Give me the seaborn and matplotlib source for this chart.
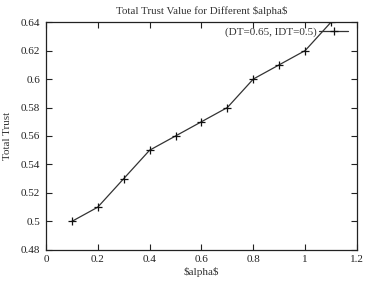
import pandas as pd
import matplotlib
matplotlib.use('Agg')
import matplotlib.pyplot as plt
import seaborn as sns

alpha_values = [0.1, 0.2, 0.3, 0.4, 0.5, 0.6, 0.7, 0.8, 0.9, 1.0, 1.1]
trust_values = [0.50, 0.51, 0.53, 0.55, 0.56, 0.57, 0.58, 0.60, 0.61, 0.62, 0.64]
x_ticks = [0, 0.2, 0.4, 0.6, 0.8, 1, 1.2]
x_tick_labels = ['0', '0.2', '0.4', '0.6', '0.8', '1', '1.2']
y_ticks = [0.48, 0.5, 0.52, 0.54, 0.56, 0.58, 0.6, 0.62, 0.64]
y_tick_labels = ['0.48', '0.5', '0.52', '0.54', '0.56', '0.58', '0.6', '0.62', '0.64']

df = pd.DataFrame({'alpha': alpha_values, 'trust': trust_values})

sns.set_style('ticks')
plt.rcParams['font.family'] = ['Liberation Serif', 'DejaVu Serif']

fig = plt.figure(figsize=(3.7, 2.83), dpi=100)
ax = fig.add_axes([0.124, 0.117, 0.841, 0.805])

sns.lineplot(x='alpha', y='trust', data=df, ax=ax, color='#333333', linewidth=0.9,
             marker='+', markersize=5.5, markeredgewidth=0.9, markeredgecolor='#111111',
             label='(DT=0.65, IDT=0.5)')

ax.set_xlim(0, 1.2)
ax.set_ylim(0.48, 0.64)
ax.set_xticks(x_ticks)
ax.set_xticklabels(x_tick_labels)
ax.set_yticks(y_ticks)
ax.set_yticklabels(y_tick_labels)
ax.tick_params(direction='in', top=True, right=True, labelsize=8, length=4, width=0.8, pad=4, colors='#222222')
for spine in ax.spines.values():
    spine.set_linewidth(0.9)
    spine.set_color('#222222')

ax.set_title('Total Trust Value for Different \\$alpha\\$', fontsize=7.8, pad=6, color='#333333')
ax.set_xlabel('\\$alpha\\$', fontsize=8, labelpad=2, color='#333333')
ax.set_ylabel('Total Trust', fontsize=8, labelpad=6, color='#333333')

ax.legend(loc='center right', bbox_to_anchor=(0.971, 0.956), frameon=False, fontsize=8,
          markerfirst=False, handlelength=2.6, handletextpad=0.2, borderpad=0, borderaxespad=0,
          labelcolor='#333333')

fig.savefig('out.png', dpi=100)
